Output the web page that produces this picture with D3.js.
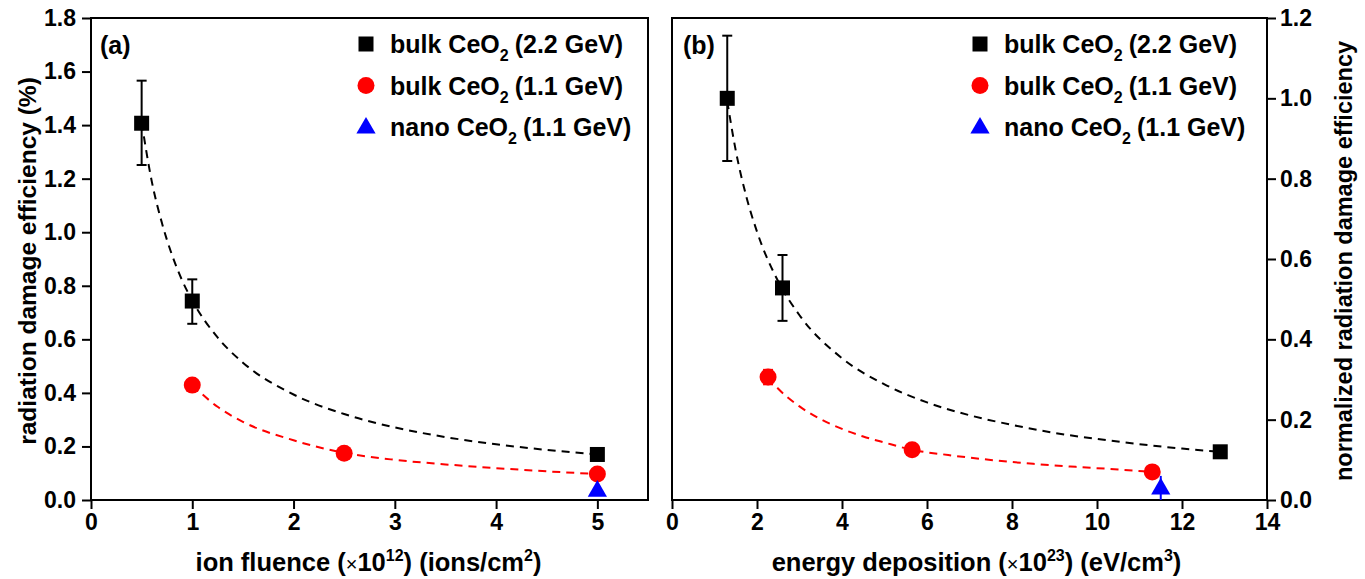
<!DOCTYPE html>
<html>
<head>
<meta charset="utf-8">
<script src="https://cdn.jsdelivr.net/npm/d3@7"></script>
<style>
body{margin:0;background:#fff;}
svg{display:block;font-family:"Liberation Sans",Arial,sans-serif;font-weight:bold;}
</style>
</head>
<body>
<svg id="chart" width="1365" height="579"></svg>
<script>
// ---------- Panel (a): ion fluence ----------
const aBulk22X = [0.5, 1, 5];
const aBulk22Y = [1.407, 0.743, 0.170];
const aBulk22Lo = [1.251, 0.658, 0.160];
const aBulk22Hi = [1.566, 0.824, 0.180];
const aBulk11X = [1, 2.5, 5];
const aBulk11Y = [0.429, 0.175, 0.097];
const aNanoX = [5];
const aNanoY = [0.037];
// fitted dashed curves
const aFit22X = [0.5, 0.6, 0.7, 0.8, 0.9, 1, 1.25, 1.5, 2, 2.5, 3, 3.5, 4, 4.5, 5];
const aFit22Y = [1.41, 1.19, 1.035, 0.915, 0.82, 0.745, 0.607, 0.513, 0.394, 0.321, 0.271, 0.235, 0.208, 0.187, 0.170];
const aFit11X = [1, 1.25, 1.5, 2, 2.5, 3, 3.5, 4, 4.5, 5];
const aFit11Y = [0.429, 0.348, 0.292, 0.223, 0.176, 0.150, 0.133, 0.119, 0.107, 0.097];
const aXTicks = [0, 1, 2, 3, 4, 5];
const aYTicks = [0, 0.2, 0.4, 0.6, 0.8, 1.0, 1.2, 1.4, 1.6, 1.8];

// ---------- Panel (b): energy deposition ----------
const bBulk22X = [1.3, 2.6, 12.9];
const bBulk22Y = [1.0, 0.528, 0.120];
const bBulk22Lo = [0.844, 0.446, 0.112];
const bBulk22Hi = [1.156, 0.610, 0.128];
const bBulk11X = [2.26, 5.65, 11.3];
const bBulk11Y = [0.306, 0.125, 0.070];
const bBulk11Lo = [0.288, 0.120, 0.066];
const bBulk11Hi = [0.324, 0.130, 0.074];
const bNanoX = [11.5];
const bNanoY = [0.03];
const bNanoLo = [0.0];
const bNanoHi = [0.06];
const bFit22X = [1.3, 1.5, 1.75, 2, 2.5, 3, 4, 5, 6, 7, 8, 9, 10, 11, 12, 12.9];
const bFit22Y = [0.993, 0.870, 0.755, 0.668, 0.544, 0.460, 0.353, 0.288, 0.243, 0.211, 0.187, 0.167, 0.152, 0.139, 0.128, 0.120];
const bFit11X = [2.26, 2.5, 3, 3.5, 4, 4.5, 5, 5.65, 6.5, 7.5, 8.5, 9.5, 10.5, 11.3];
const bFit11Y = [0.306, 0.277, 0.233, 0.201, 0.177, 0.158, 0.143, 0.125, 0.112, 0.0997, 0.090, 0.0825, 0.076, 0.070];
const bXTicks = [0, 2, 4, 6, 8, 10, 12, 14];
const bYTicks = [0, 0.2, 0.4, 0.6, 0.8, 1.0, 1.2];

const legendLabels = ["(2.2 GeV)", "(1.1 GeV)", "(1.1 GeV)"];
const legendPrefix = ["bulk CeO", "bulk CeO", "nano CeO"];
const legendKinds = ["square", "circle", "triangle"];
const legendColors = ["#000000", "#ff0000", "#0000ff"];

const svg = d3.select("#chart");
const TOP = 18, BOTTOM = 500;

function zip(xs, ys) { return xs.map((x, i) => [x, ys[i]]); }

function drawMarker(g, kind, color, cx, cy) {
  if (kind === "square") {
    g.append("rect").attr("x", cx - 7.5).attr("y", cy - 7.5).attr("width", 15).attr("height", 15).attr("fill", color);
  } else if (kind === "circle") {
    g.append("circle").attr("cx", cx).attr("cy", cy).attr("r", 8.5).attr("fill", color);
  } else {
    const s = d3.symbol().type(d3.symbolTriangle).size(160);
    g.append("path").attr("d", s()).attr("transform", `translate(${cx},${cy + 1})`).attr("fill", color);
  }
}

function styleText(sel, size) {
  sel.attr("font-size", size).attr("font-weight", "bold")
    .attr("font-family", "Liberation Sans, Arial, sans-serif").attr("fill", "#000");
}

function panel(opt) {
  const g = svg.append("g");
  const x = d3.scaleLinear().domain(opt.xDomain).range([opt.x0, opt.x1]);
  const y = d3.scaleLinear().domain(opt.yDomain).range([BOTTOM, TOP]);

  // frame
  g.append("rect").attr("x", opt.x0).attr("y", TOP).attr("width", opt.x1 - opt.x0).attr("height", BOTTOM - TOP)
    .attr("fill", "none").attr("stroke", "#000").attr("stroke-width", 2);

  // x axis
  const xMinor = d3.range(opt.xDomain[0], opt.xDomain[1] + 1e-9, opt.xMinorStep);
  const xa = g.append("g").attr("transform", `translate(0,${BOTTOM})`);
  xa.call(d3.axisBottom(x).tickValues(xMinor).tickSize(6).tickFormat(""));
  xa.call(d3.axisBottom(x).tickValues(opt.xTicks).tickSize(9).tickPadding(5).tickFormat(d3.format("d")));
  xa.select(".domain").remove();
  xa.selectAll("line").attr("stroke-width", 2);
  styleText(xa.selectAll("text"), 23);

  // y axis
  const yMinor = d3.range(opt.yDomain[0], opt.yDomain[1] + 1e-9, opt.yMinorStep);
  const yx = opt.yRight ? opt.x1 : opt.x0;
  const axisFn = opt.yRight ? d3.axisRight : d3.axisLeft;
  const ya = g.append("g").attr("transform", `translate(${yx},0)`);
  ya.call(axisFn(y).tickValues(yMinor).tickSize(6).tickFormat(""));
  ya.call(axisFn(y).tickValues(opt.yTicks).tickSize(9).tickPadding(opt.yRight ? 4 : 6).tickFormat(d3.format(".1f")));
  ya.select(".domain").remove();
  ya.selectAll("line").attr("stroke-width", 2);
  styleText(ya.selectAll("text"), 23);

  // fit curves
  const line = d3.line().x(d => x(d[0])).y(d => y(d[1])).curve(d3.curveMonotoneX);
  opt.fits.forEach(f => {
    g.append("path").datum(zip(f.x, f.y)).attr("d", line).attr("fill", "none")
      .attr("stroke", f.color).attr("stroke-width", 2).attr("stroke-dasharray", "8,6");
  });

  // error bars
  opt.errs.forEach(e => {
    e.x.forEach((xv, i) => {
      const cx = x(xv);
      g.append("line").attr("x1", cx).attr("x2", cx).attr("y1", y(e.lo[i])).attr("y2", y(e.hi[i]))
        .attr("stroke", e.color).attr("stroke-width", 2);
      if (e.caps !== false) {
        [e.lo[i], e.hi[i]].forEach(v => {
          g.append("line").attr("x1", cx - 5).attr("x2", cx + 5).attr("y1", y(v)).attr("y2", y(v))
            .attr("stroke", e.color).attr("stroke-width", 2);
        });
      }
    });
  });

  // points
  opt.series.forEach(s => {
    s.x.forEach((xv, i) => drawMarker(g, s.kind, s.color, x(xv), y(s.y[i])));
  });

  // panel label
  g.append("text").attr("x", opt.labelX).attr("y", 54).attr("font-size", 25).text(opt.label);

  // legend
  legendPrefix.forEach((p, i) => {
    const cy = 44 + i * 41.5;
    drawMarker(g, legendKinds[i], legendColors[i], opt.legX, cy);
    const t = g.append("text").attr("x", opt.legX + 24).attr("y", cy + 9).attr("font-size", 25);
    t.append("tspan").text(p);
    t.append("tspan").attr("font-size", 16).attr("dy", 8).text("2");
    t.append("tspan").attr("dy", -8).attr("dx", 6).text(legendLabels[i]);
  });

  // x title
  const xt = g.append("text").attr("x", (opt.x0 + opt.x1) / 2 + opt.xTitleShift).attr("y", 571)
    .attr("text-anchor", "middle").attr("font-size", 25.5);
  xt.append("tspan").text(opt.xTitle[0]);
  xt.append("tspan").attr("font-weight", "normal").attr("font-size", 20).text("×");
  xt.append("tspan").text("10");
  xt.append("tspan").attr("font-size", 16).attr("dy", -10).text(opt.xTitle[1]);
  xt.append("tspan").attr("dy", 10).text(opt.xTitle[2]);
  xt.append("tspan").attr("font-size", 16).attr("dy", -10).text(opt.xTitle[3]);
  xt.append("tspan").attr("dy", 10).text(")");

  return g;
}

panel({
  x0: 91, x1: 648, xDomain: [0, 5.5], yDomain: [0, 1.8],
  xTicks: aXTicks, yTicks: aYTicks, xMinorStep: 0.5, yMinorStep: 0.1,
  yRight: false,
  fits: [{x: aFit22X, y: aFit22Y, color: "#000"}, {x: aFit11X, y: aFit11Y, color: "#ff0000"}],
  errs: [{x: aBulk22X.slice(0, 2), lo: aBulk22Lo.slice(0, 2), hi: aBulk22Hi.slice(0, 2), color: "#000"}],
  series: [
    {x: aBulk22X, y: aBulk22Y, kind: "square", color: "#000"},
    {x: aBulk11X, y: aBulk11Y, kind: "circle", color: "#ff0000"},
    {x: aNanoX, y: aNanoY, kind: "triangle", color: "#0000ff"}
  ],
  label: "(a)", labelX: 100, legX: 366,
  xTitle: ["ion fluence (", "12", ") (ions/cm", "2"], xTitleShift: -1
});

panel({
  x0: 672, x1: 1267, xDomain: [0, 14], yDomain: [0, 1.2],
  xTicks: bXTicks, yTicks: bYTicks, xMinorStep: 1, yMinorStep: 0.1,
  yRight: true,
  fits: [{x: bFit22X, y: bFit22Y, color: "#000"}, {x: bFit11X, y: bFit11Y, color: "#ff0000"}],
  errs: [
    {x: bBulk22X.slice(0, 2), lo: bBulk22Lo.slice(0, 2), hi: bBulk22Hi.slice(0, 2), color: "#000"},
    {x: bBulk11X.slice(0, 1), lo: bBulk11Lo.slice(0, 1), hi: bBulk11Hi.slice(0, 1), color: "#ff0000"},
    {x: bNanoX, lo: bNanoLo, hi: bNanoHi, color: "#0000ff", caps: false}
  ],
  series: [
    {x: bBulk22X, y: bBulk22Y, kind: "square", color: "#000"},
    {x: bBulk11X, y: bBulk11Y, kind: "circle", color: "#ff0000"},
    {x: bNanoX, y: bNanoY, kind: "triangle", color: "#0000ff"}
  ],
  label: "(b)", labelX: 683, legX: 980,
  xTitle: ["energy deposition (", "23", ") (eV/cm", "3"], xTitleShift: 7
});

// y titles
svg.append("text").attr("transform", "translate(27,261) rotate(-90)").attr("text-anchor", "middle")
  .attr("font-size", 24.5).attr("dy", "0.35em").text("radiation damage efficiency (%)");
svg.append("text").attr("transform", "translate(1344,261) rotate(-90)").attr("text-anchor", "middle")
  .attr("font-size", 23.5).attr("dy", "0.35em").text("normalized radiation damage efficiency");
</script>
</body>
</html>
